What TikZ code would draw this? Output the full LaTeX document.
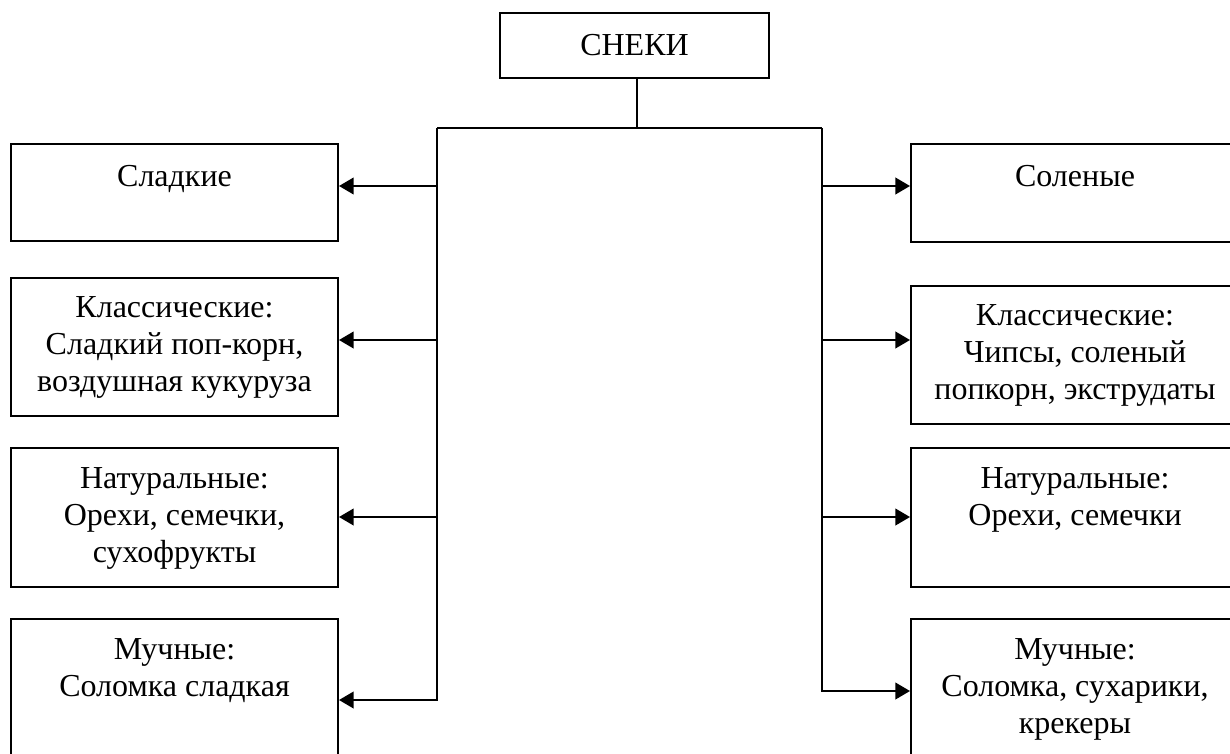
\documentclass[tikz,border=0pt]{standalone}
\usepackage{fontspec}
\setmainfont{Liberation Serif}
\usetikzlibrary{arrows.meta}
\tikzset{every picture/.style={line width=1.5pt}}

\begin{document}
\begin{tikzpicture}[x=0.75pt,y=0.75pt,yscale=-1,xscale=1,
  box/.style={draw, inner sep=0, minimum width=245.25pt, minimum height=104.25pt},
  wbox/.style={box, minimum width=246pt},
  txt/.style={anchor=north, inner sep=0, align=center, font=\fontsize{24}{27.75}\selectfont},
  arr/.style={-{Triangle[length=11pt,width=12.5pt]}}]
  \useasboundingbox (0,0) rectangle (1230,753);

  %Top rectangle
  \node [box, minimum width=201.75pt, minimum height=48.75pt, font=\fontsize{24}{27.75}\selectfont] (snacks) at (634.5,45.5) {СНЕКИ};

  %Left rectangles
  \node [box, minimum height=72.75pt] (sw1) at (174.5,192.5) {};
  \node [box, minimum height=103.5pt] (sw2) at (174.5,347) {};
  \node [box] (sw3) at (174.5,517.5) {};
  \node [box] (sw4) at (174.5,688.5) {};
  %Right rectangles
  \node [wbox, minimum height=73.5pt] (sa1) at (1075,193) {};
  \node [wbox, minimum height=103.5pt] (sa2) at (1075,355) {};
  \node [wbox] (sa3) at (1075,517.5) {};
  \node [wbox] (sa4) at (1075,688.5) {};

  %Texts
  \node [txt] (sw1t) at (174.5,164) {Сладкие};
  \node [txt] (sw2t) at (174.5,296) {Классические:\\Сладкий поп-корн,\\воздушная кукуруза};
  \node [txt] (sw3t) at (174.5,467) {Натуральные:\\Орехи, семечки,\\сухофрукты};
  \node [txt] (sw4t) at (174.5,638) {Мучные:\\Соломка сладкая};
  \node [txt] (sa1t) at (1075,164) {Соленые};
  \node [txt] (sa2t) at (1075,304) {Классические:\\Чипсы, соленый\\попкорн, экструдаты};
  \node [txt] (sa3t) at (1075,467) {Натуральные:\\Орехи, семечки};
  \node [txt] (sa4t) at (1075,638) {Мучные:\\Соломка, сухарики,\\крекеры};

  %Straight Lines
  \coordinate (hub) at (637,128);
  \coordinate (lt) at (437,128);
  \coordinate (rt) at (822,128);
  \coordinate (lb) at (437,700);
  \coordinate (rb) at (822,691);
  \draw (hub |- snacks.south) -- (hub);
  \draw (lt) -- (rt);

  %Arrows left
  \coordinate (l1) at (437,186);
  \coordinate (l2) at (437,340);
  \coordinate (l3) at (437,517);
  \draw [arr] (l1) -- (l1 -| sw1.east);
  \draw [arr] (l2) -- (l2 -| sw2.east);
  \draw [arr] (l3) -- (l3 -| sw3.east);
  \draw [arr] (lt) -- (lb) -- (lb -| sw4.east);
  %Arrows right
  \coordinate (r1) at (822,186);
  \coordinate (r2) at (822,340);
  \coordinate (r3) at (822,517);
  \draw [arr] (r1) -- (r1 -| sa1.west);
  \draw [arr] (r2) -- (r2 -| sa2.west);
  \draw [arr] (r3) -- (r3 -| sa3.west);
  \draw [arr] (rt) -- (rb) -- (rb -| sa4.west);
\end{tikzpicture}
\end{document}
